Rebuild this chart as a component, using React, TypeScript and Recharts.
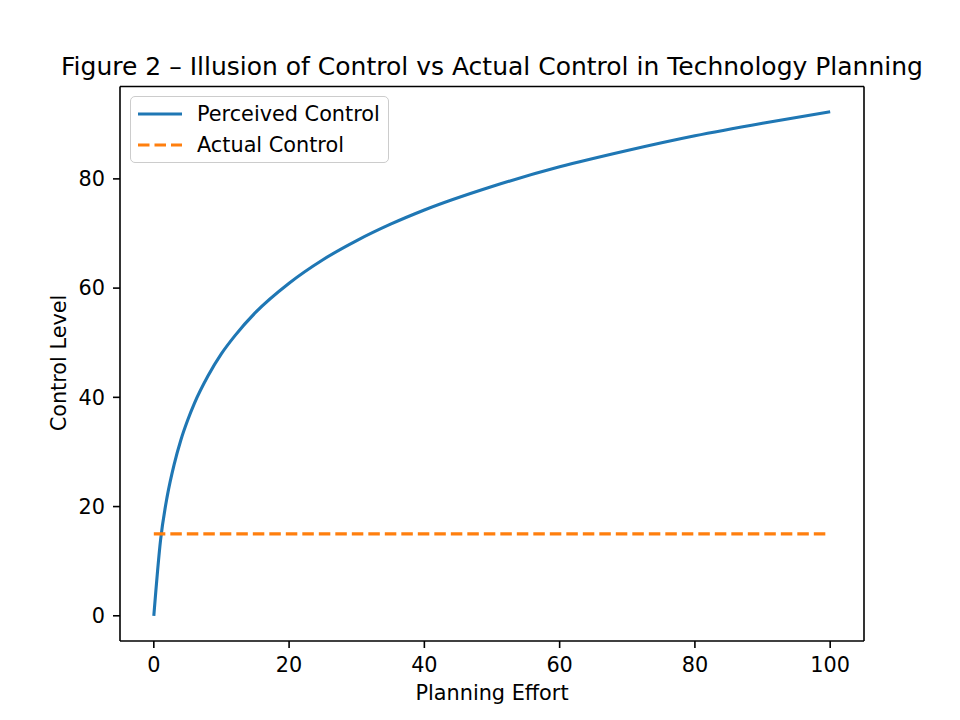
import { LineChart, Line, XAxis, YAxis, Legend } from 'recharts'

// values
const effort = [0, 1, 2, 3, 4, 5, 6, 8, 10, 12, 15, 20, 25, 30, 35, 40, 50, 60, 70, 80, 90, 100]
const perceived = [0, 13.9, 22.0, 27.7, 32.2, 35.8, 38.9, 43.9, 48.0, 51.3, 55.5, 60.9, 65.2, 68.7, 71.7, 74.3, 78.6, 82.2, 85.2, 87.9, 90.2, 92.3]
const actualLevel = 15
const xTicks = [0, 20, 40, 60, 80, 100]
const yTicks = [0, 20, 40, 60, 80]

const SERIES = [
  { key: 'perceived', name: 'Perceived Control', color: '#1f77b4', dash: undefined },
  { key: 'actual', name: 'Actual Control', color: '#ff7f0e', dash: '11.5 5' },
]

const data = effort.map((x, i) => ({ effort: x, perceived: perceived[i], actual: actualLevel }))

const FONT = '"DejaVu Sans", sans-serif'
const tickStyle = { fontSize: 20.8, fill: '#000', fontFamily: FONT }
const X_DOMAIN = [-5, 105]
const Y_DOMAIN = [-4.615, 96.915]

const LegendBox = () => (
  <div
    style={{
      width: 259,
      height: 67,
      boxSizing: 'border-box',
      border: '1.6px solid #cccccc',
      borderRadius: 5,
      background: 'rgba(255,255,255,0.8)',
      paddingTop: 1,
      fontFamily: FONT,
      fontSize: 20.8,
      color: '#000',
    }}
  >
    {SERIES.map((s) => (
      <div key={s.key} style={{ height: 31, display: 'flex', alignItems: 'center' }}>
        <svg width={44} height={10} style={{ marginLeft: 7, marginRight: 15 }}>
          <line x1={0} y1={5} x2={44} y2={5} stroke={s.color} strokeWidth={3.1} strokeDasharray={s.dash} />
        </svg>
        <span>{s.name}</span>
      </div>
    ))}
  </div>
)

export default function App() {
  return (
    <div style={{ position: 'absolute', left: 0, top: 0, width: 960, height: 720, background: '#fff' }}>
      <div
        style={{
          position: 'absolute',
          left: 0,
          width: 984,
          top: 54,
          textAlign: 'center',
          fontFamily: FONT,
          fontSize: 25,
          lineHeight: '25px',
          color: '#000',
          whiteSpace: 'nowrap',
        }}
      >
        Figure 2 – Illusion of Control vs Actual Control in Technology Planning
      </div>
      <LineChart width={960} height={720} data={data} margin={{ top: 85.5, right: 95, left: 0, bottom: 0 }}>
        <XAxis
          dataKey="effort"
          type="number"
          domain={X_DOMAIN}
          ticks={xTicks}
          height={79}
          tickSize={7}
          tickMargin={9}
          stroke="#000"
          strokeWidth={1.6}
          tick={tickStyle}
          allowDataOverflow
          label={() => (
            <text x={492} y={700} textAnchor="middle" fontFamily={FONT} fontSize={20.8} fill="#000">
              Planning Effort
            </text>
          )}
        />
        <XAxis xAxisId="top" orientation="top" type="number" domain={X_DOMAIN} height={1} tick={false} tickLine={false} stroke="#000" strokeWidth={1.6} allowDataOverflow />
        <YAxis
          type="number"
          domain={Y_DOMAIN}
          ticks={yTicks}
          width={120}
          tickSize={7}
          tickMargin={8}
          stroke="#000"
          strokeWidth={1.6}
          tick={tickStyle}
          allowDataOverflow
          label={() => (
            <text x={66} y={363} transform="rotate(-90 66 363)" textAnchor="middle" fontFamily={FONT} fontSize={20.8} fill="#000">
              Control Level
            </text>
          )}
        />
        <YAxis yAxisId="right" orientation="right" type="number" domain={Y_DOMAIN} width={1} tick={false} tickLine={false} stroke="#000" strokeWidth={1.6} allowDataOverflow />
        <Legend
          layout="horizontal"
          verticalAlign="middle"
          align="center"
          wrapperStyle={{ position: 'absolute', left: 130, top: 96, width: 'auto', height: 'auto' }}
          content={() => <LegendBox />}
        />
        {SERIES.map((s) => (
          <Line
            key={s.key}
            dataKey={s.key}
            name={s.name}
            type="monotone"
            stroke={s.color}
            strokeWidth={3.1}
            strokeDasharray={s.dash}
            dot={false}
            activeDot={false}
            isAnimationActive={false}
          />
        ))}
      </LineChart>
    </div>
  )
}
